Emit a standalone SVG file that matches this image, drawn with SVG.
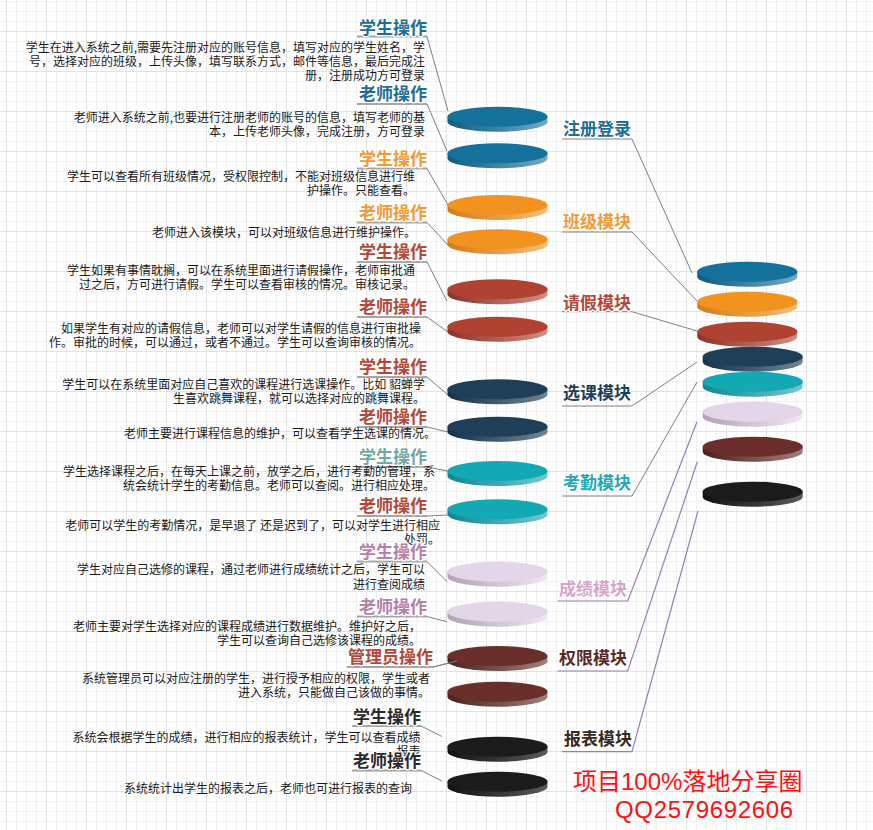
<svg xmlns="http://www.w3.org/2000/svg" width="873" height="830" viewBox="0 0 873 830">
<style>
.t{font-family:"Noto Sans CJK SC","Liberation Sans",sans-serif;font-weight:bold;font-size:17px;stroke:#fff;stroke-width:2.5;paint-order:stroke;stroke-linejoin:round}
.ti{text-anchor:end}
.d{font-family:"Noto Sans CJK SC","Liberation Sans",sans-serif;font-size:12px;fill:#1a1a1a;text-anchor:end}
.ul{stroke:#a6a6a6;stroke-width:2;fill:none}
.c{stroke:#7f7f7f;stroke-width:1;fill:none}
.cp{stroke:#9a7db5;stroke-width:1.2;fill:none}
.wm{font-family:"Liberation Sans","Noto Sans CJK SC",sans-serif;font-size:24px;fill:#ff1010}
</style>
<defs>
<pattern id="grid" width="40" height="40" patternUnits="userSpaceOnUse" x="6" y="31">
<path d="M10.5 0V40M20.5 0V40M30.5 0V40M0 10.5H40M0 20.5H40M0 30.5H40" stroke="#f1f1f1" stroke-width="1"/>
<path d="M0.5 0V40M0 0.5H40" stroke="#e2e2e2" stroke-width="1"/>
</pattern>
<linearGradient id="gBlue"><stop offset="0" stop-color="#0f5c80"/><stop offset="1" stop-color="#73a9c2"/></linearGradient>
<linearGradient id="gOrange"><stop offset="0" stop-color="#d47c16"/><stop offset="1" stop-color="#f2bd78"/></linearGradient>
<linearGradient id="gRed"><stop offset="0" stop-color="#8c3226"/><stop offset="1" stop-color="#d08e85"/></linearGradient>
<linearGradient id="gNavy"><stop offset="0" stop-color="#15304a"/><stop offset="1" stop-color="#708697"/></linearGradient>
<linearGradient id="gTeal"><stop offset="0" stop-color="#0d8891"/><stop offset="1" stop-color="#72c9cf"/></linearGradient>
<linearGradient id="gLav"><stop offset="0" stop-color="#b0a4b6"/><stop offset="1" stop-color="#efe8f1"/></linearGradient>
<linearGradient id="gMar"><stop offset="0" stop-color="#4c201e"/><stop offset="1" stop-color="#a27e7b"/></linearGradient>
<linearGradient id="gBlk"><stop offset="0" stop-color="#111"/><stop offset="1" stop-color="#5a5a5a"/></linearGradient>
<path id="side" d="M-50 0V5A50 10 0 0 0 50 5V0Z"/>
</defs>
<rect width="873" height="830" fill="#fff"/>
<rect width="873" height="830" fill="url(#grid)"/>

<g id="connectors">
<path class="ul" d="M357 36.5H427M357 104H427M357 168.5H427M357 222.5H427M357 262H427M357 317H427M357 377H427M357 427H427M357 467H427M357 516H427M357 561.5H427M357 616.5H427M347 667H433M352 726H421M352 770.5H421"/>
<path class="c" d="M427 36.5L448 111M427 104L447 151M427 168.5L448 205M427 222.5L448 245M427 262L447 301M427 317L448 332M427 377L448 395M427 427L448 432M427 467L448 471M427 516L448 515M427 561.5L447 581.7M427 616.5L447 621.7M433 667L457 661M421 726L442 736.5M421 770.5L442 781"/>
<path class="c" d="M562 139H632L692 273M562 232H632L697 301M562 311.7H632L697 331M562 406H632L697 362M562 496H632L697 382"/>
<path class="cp" d="M557.7 601H627.7L697 421.7M557.7 671H627.7L697.3 461.7M562 751.7H632L698 511"/>
</g>

<g id="disc-left">
<g transform="translate(497.5 116.7)"><use href="#side" fill="url(#gBlue)"/><ellipse rx="50" ry="10" fill="#13719c"/></g>
<g transform="translate(497.5 153.3)"><use href="#side" fill="url(#gBlue)"/><ellipse rx="50" ry="10" fill="#13719c"/></g>
<g transform="translate(497.5 205)"><use href="#side" fill="url(#gOrange)"/><ellipse rx="50" ry="10" fill="#f3931f"/></g>
<g transform="translate(497.5 239.3)"><use href="#side" fill="url(#gOrange)"/><ellipse rx="50" ry="10" fill="#f3931f"/></g>
<g transform="translate(497.5 289.3)"><use href="#side" fill="url(#gRed)"/><ellipse rx="50" ry="10" fill="#b04231"/></g>
<g transform="translate(497.5 326.7)"><use href="#side" fill="url(#gRed)"/><ellipse rx="50" ry="10" fill="#b04231"/></g>
<g transform="translate(497.5 389.3)"><use href="#side" fill="url(#gNavy)"/><ellipse rx="50" ry="10" fill="#1f3f58"/></g>
<g transform="translate(497.5 426.7)"><use href="#side" fill="url(#gNavy)"/><ellipse rx="50" ry="10" fill="#1f3f58"/></g>
<g transform="translate(497.5 471)"><use href="#side" fill="url(#gTeal)"/><ellipse rx="50" ry="10" fill="#12a9b5"/></g>
<g transform="translate(497.5 509.3)"><use href="#side" fill="url(#gTeal)"/><ellipse rx="50" ry="10" fill="#12a9b5"/></g>
<g transform="translate(497.5 571.7)"><use href="#side" fill="url(#gLav)"/><ellipse rx="50" ry="10" fill="#e2d6e8"/></g>
<g transform="translate(497.5 611.7)"><use href="#side" fill="url(#gLav)"/><ellipse rx="50" ry="10" fill="#e2d6e8"/></g>
<g transform="translate(497.5 656)"><use href="#side" fill="url(#gMar)"/><ellipse rx="50" ry="10" fill="#6a2f2b"/></g>
<g transform="translate(497.5 691.7)"><use href="#side" fill="url(#gMar)"/><ellipse rx="50" ry="10" fill="#6a2f2b"/></g>
<g transform="translate(497.5 746.7)"><use href="#side" fill="url(#gBlk)"/><ellipse rx="50" ry="10" fill="#1b1b1b"/></g>
<g transform="translate(497.5 781.7)"><use href="#side" fill="url(#gBlk)"/><ellipse rx="50" ry="10" fill="#1b1b1b"/></g>
<path class="c" d="M433 667L457 661"/>
</g>

<g id="disc-stack">
<g transform="translate(747.3 271.7)"><use href="#side" fill="url(#gBlue)"/><ellipse rx="50" ry="10" fill="#13719c"/></g>
<g transform="translate(747.3 301.7)"><use href="#side" fill="url(#gOrange)"/><ellipse rx="50" ry="10" fill="#f3931f"/></g>
<g transform="translate(747.3 331.7)"><use href="#side" fill="url(#gRed)"/><ellipse rx="50" ry="10" fill="#b04231"/></g>
<g transform="translate(752.7 356.7)"><use href="#side" fill="url(#gNavy)"/><ellipse rx="50" ry="10" fill="#1f3f58"/></g>
<g transform="translate(752.7 381.7)"><use href="#side" fill="url(#gTeal)"/><ellipse rx="50" ry="10" fill="#12a9b5"/></g>
<g transform="translate(752.7 411.7)"><use href="#side" fill="url(#gLav)"/><ellipse rx="50" ry="10" fill="#e2d6e8"/></g>
<g transform="translate(752.7 446.7)"><use href="#side" fill="url(#gMar)"/><ellipse rx="50" ry="10" fill="#6a2f2b"/></g>
<g transform="translate(752.7 491.7)"><use href="#side" fill="url(#gBlk)"/><ellipse rx="50" ry="10" fill="#1b1b1b"/></g>
</g>

<g id="modules">
<text class="t" x="563" y="135" fill="#1f6d96">注册登录</text>
<text class="t" x="563" y="228" fill="#f39a32">班级模块</text>
<text class="t" x="563" y="308.5" fill="#b5473a">请假模块</text>
<text class="t" x="563" y="399" fill="#1e3f58">选课模块</text>
<text class="t" x="563" y="489" fill="#21a9b5">考勤模块</text>
<text class="t" x="559" y="594.5" fill="#d6a5c8">成绩模块</text>
<text class="t" x="559" y="664" fill="#5a2b26">权限模块</text>
<text class="t" x="564" y="744.5" fill="#3a2a22">报表模块</text>
</g>

<g id="op1">
<text class="d" x="425"><tspan x="425" y="51.7">学生在进入系统之前,需要先注册对应的账号信息，填写对应的学生姓名，学</tspan><tspan x="425" y="65.7">号，选择对应的班级，上传头像，填写联系方式，邮件等信息，最后完成注</tspan><tspan x="425" y="79.7">册，注册成功方可登录</tspan></text>
<text class="t ti" x="427" y="33.5" fill="#1f6d96">学生操作</text>
</g>
<g id="op2">
<text class="d"><tspan x="425" y="122.3">老师进入系统之前,也要进行注册老师的账号的信息，填写老师的基</tspan><tspan x="425" y="136.3">本，上传老师头像，完成注册，方可登录</tspan></text>
<text class="t ti" x="427" y="100" fill="#1f6d96">老师操作</text>
</g>
<g id="op3">
<text class="d"><tspan x="415" y="180.7">学生可以查看所有班级情况，受权限控制，不能对班级信息进行维</tspan><tspan x="415" y="194.7">护操作。只能查看。</tspan></text>
<text class="t ti" x="427" y="164.5" fill="#f39a32">学生操作</text>
</g>
<g id="op4">
<text class="d" x="416" y="236.7">老师进入该模块，可以对班级信息进行维护操作。</text>
<text class="t ti" x="427" y="218.5" fill="#f39a32">老师操作</text>
</g>
<g id="op5">
<text class="d"><tspan x="415" y="275">学生如果有事情耽搁，可以在系统里面进行请假操作，老师审批通</tspan><tspan x="415" y="289">过之后，方可进行请假。学生可以查看审核的情况。审核记录。</tspan></text>
<text class="t ti" x="427" y="258" fill="#b5473a">学生操作</text>
</g>
<g id="op6">
<text class="d"><tspan x="421" y="333.3">如果学生有对应的请假信息，老师可以对学生请假的信息进行审批操</tspan><tspan x="421" y="347.3">作。审批的时候，可以通过，或者不通过。学生可以查询审核的情况。</tspan></text>
<text class="t ti" x="427" y="313" fill="#b5473a">老师操作</text>
</g>
<g id="op7">
<text class="d"><tspan x="425" y="389.3">学生可以在系统里面对应自己喜欢的课程进行选课操作。比如 貂蝉学</tspan><tspan x="425" y="403.3">生喜欢跳舞课程，就可以选择对应的跳舞课程。</tspan></text>
<text class="t ti" x="427" y="373" fill="#b5473a">学生操作</text>
</g>
<g id="op8">
<text class="d" x="436" y="438.3">老师主要进行课程信息的维护，可以查看学生选课的情况。</text>
<text class="t ti" x="427" y="423" fill="#b5473a">老师操作</text>
</g>
<g id="op9">
<text class="d"><tspan x="435" y="476">学生选择课程之后，在每天上课之前，放学之后，进行考勤的管理，系</tspan><tspan x="435" y="490">统会统计学生的考勤信息。老师可以查阅。进行相应处理。</tspan></text>
<text class="t ti" x="427" y="463" fill="#72a8a2">学生操作</text>
</g>
<g id="op10">
<text class="d"><tspan x="440" y="530">老师可以学生的考勤情况，是早退了 还是迟到了，可以对学生进行相应</tspan><tspan x="440" y="544">处罚。</tspan></text>
<text class="t ti" x="427" y="512" fill="#b5473a">老师操作</text>
</g>
<g id="op11">
<text class="d"><tspan x="425" y="574.3">学生对应自己选修的课程，通过老师进行成绩统计之后，学生可以</tspan><tspan x="425" y="589">进行查阅成绩</tspan></text>
<text class="t ti" x="427" y="557.5" fill="#b57fa8">学生操作</text>
</g>
<g id="op12">
<text class="d"><tspan x="421" y="631">老师主要对学生选择对应的课程成绩进行数据维护。维护好之后，</tspan><tspan x="421" y="645">学生可以查询自己选修该课程的成绩。</tspan></text>
<text class="t ti" x="427" y="613" fill="#b57fa8">老师操作</text>
</g>
<g id="op13">
<text class="d"><tspan x="430" y="683.3">系统管理员可以对应注册的学生，进行授予相应的权限，学生或者</tspan><tspan x="430" y="697.3">进入系统，只能做自己该做的事情。</tspan></text>
<text class="t ti" x="433" y="663" fill="#b5473a">管理员操作</text>
</g>
<g id="op14">
<text class="d"><tspan x="420.5" y="741.7">系统会根据学生的成绩，进行相应的报表统计，学生可以查看成绩</tspan><tspan x="420.5" y="755.7">报表</tspan></text>
<text class="t ti" x="421" y="723" fill="#2b2b2b">学生操作</text>
</g>
<g id="op15">
<text class="d" x="412" y="793.3">系统统计出学生的报表之后，老师也可进行报表的查询</text>
<text class="t ti" x="421" y="766.5" fill="#2b2b2b">老师操作</text>
</g>

<g id="watermark">
<text class="wm" x="573" y="790">项目100%落地分享圈</text>
<text class="wm" x="615" y="817.5" textLength="178">QQ2579692606</text>
</g>
</svg>
